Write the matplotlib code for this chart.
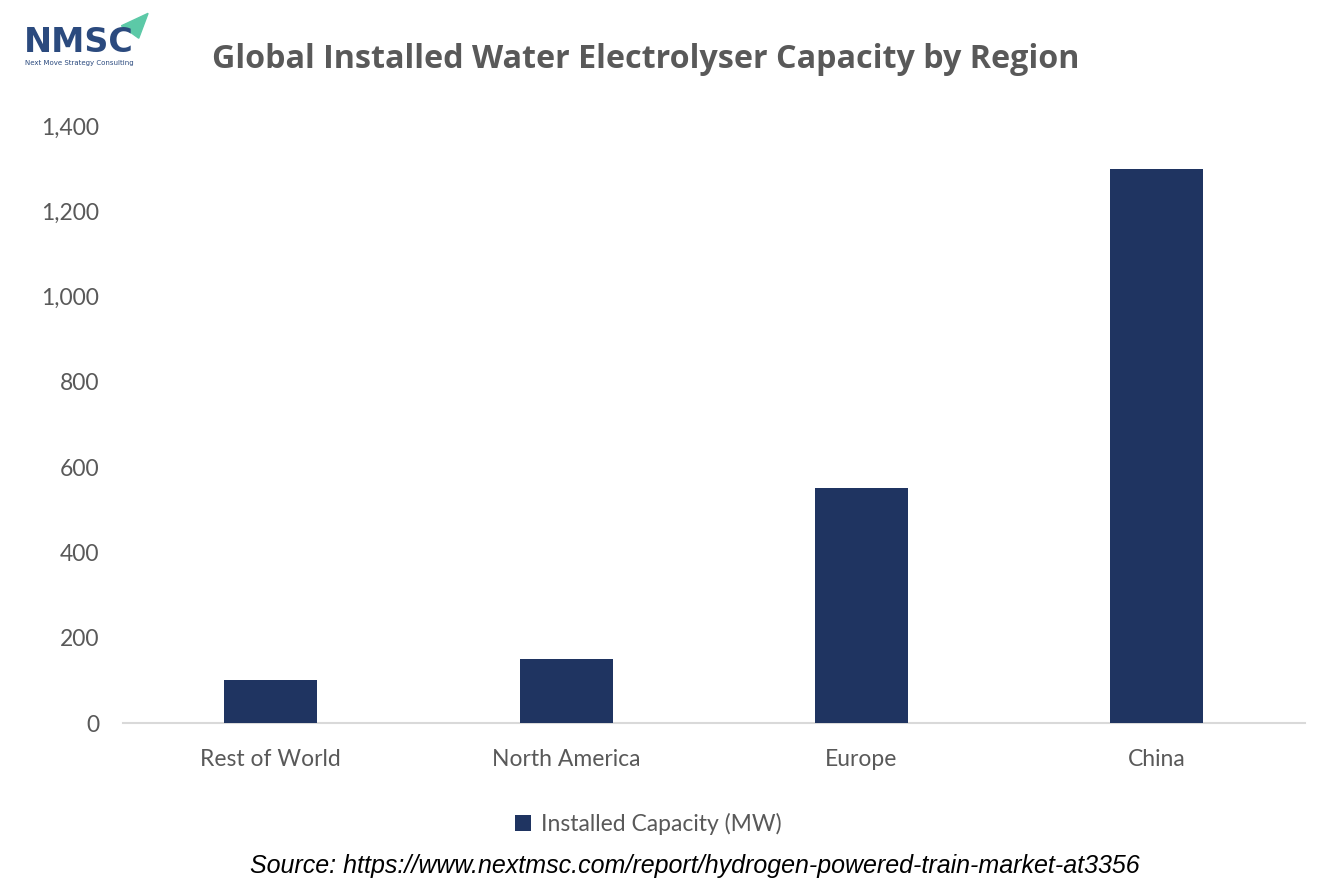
import matplotlib
matplotlib.use('Agg')
import matplotlib.pyplot as plt
from matplotlib.patches import Polygon, Patch

regions = ['Rest of World', 'North America', 'Europe', 'China']
capacity_mw = [100, 150, 550, 1300]
yticks = [0, 200, 400, 600, 800, 1000, 1200, 1400]

bar_color = '#1f3461'
text_gray = '#595959'
font = 'Lato'

fig = plt.figure(figsize=(13.34, 8.89), dpi=100)
ax = fig.add_axes([0.0922, 0.1867, 0.8858, 0.6716])

ax.bar(range(len(regions)), capacity_mw, width=0.315, color=bar_color,
       label='Installed Capacity (MW)', zorder=3)
ax.set_xlim(-0.5, len(regions) - 0.5)
ax.set_ylim(0, 1400)
ax.set_yticks(yticks)
ax.set_yticklabels(['{:,}'.format(v) for v in yticks])
ax.set_xticks(range(len(regions)))
ax.set_xticklabels(regions)

for s in ['top', 'right', 'left']:
    ax.spines[s].set_visible(False)
ax.spines['bottom'].set_color('#d9d9d9')
ax.spines['bottom'].set_linewidth(1.5)
ax.tick_params(axis='both', length=0, labelsize=16.5, labelcolor=text_gray)
ax.tick_params(axis='y', pad=17)
ax.tick_params(axis='x', pad=19)
for lab in ax.get_xticklabels() + ax.get_yticklabels():
    lab.set_fontfamily(font)

# legend
handle = Patch(facecolor=bar_color, label='Installed Capacity (MW)')
fig.legend(handles=[handle], loc='center', bbox_to_anchor=(0.486, 0.073),
           frameon=False, handlelength=0.7, handleheight=0.7, handletextpad=0.4,
           prop={'family': font, 'size': 16.5}, labelcolor=text_gray)

# title
fig.text(0.484, 0.933, 'Global Installed Water Electrolyser Capacity by Region',
         ha='center', va='center', fontsize=23.2, fontweight='bold',
         color=text_gray, family='Open Sans')

# source
fig.text(0.521, 0.026, 'Source: https://www.nextmsc.com/report/hydrogen-powered-train-market-at3356',
         ha='center', va='center', fontsize=18, style='italic', color='black',
         family='Liberation Sans')

# logo
fig.text(0.018, 0.952, 'NMSC', ha='left', va='center', fontsize=24,
         fontweight='bold', color='#2b4a7e', family='DejaVu Sans')
fig.text(0.019, 0.929, 'Next Move Strategy Consulting', ha='left', va='center',
         fontsize=5, color='#2b4a7e', family='DejaVu Sans')
tri = Polygon([[0.091, 0.971], [0.111, 0.985], [0.104, 0.957]],
              closed=True, transform=fig.transFigure, color='#5cc9a7')
fig.patches.append(tri)

plt.savefig('out.png', dpi=100)
